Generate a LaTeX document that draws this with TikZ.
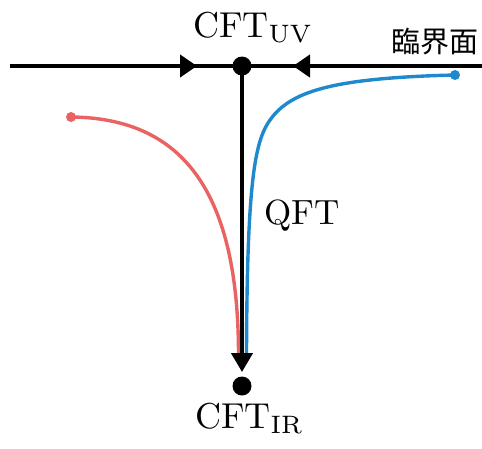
\documentclass[tikz,border=0pt]{standalone}
\usepackage{fontspec}
\newfontfamily\cjk{Noto Sans CJK JP}
\usetikzlibrary{arrows.meta}
\definecolor{redc}{RGB}{234,98,98}
\definecolor{bluec}{RGB}{30,137,204}
\begin{document}
\begin{tikzpicture}[x=1pt,y=-1pt,
  axis/.style={line width=4.2pt,black},
  flow/.style={line width=3.4pt,line cap=round},
  bigdot/.style={circle,fill=black,inner sep=0pt,minimum size=19pt},
  enddot/.style={circle,inner sep=0pt,minimum size=10pt},
  lab/.style={inner sep=0pt},
  tip/.style={-{Triangle[length=17pt,width=22pt]}}]
\useasboundingbox (0,0) rectangle (482,448);
% coordinates
\coordinate (L) at (10,66);
\coordinate (R) at (482,66);
\coordinate (la) at (197,66);
\coordinate (ra) at (293,66);
\coordinate (vtip) at (242,372);
% flows
\node[enddot,fill=redc] (rs) at (71,117) {};
\node[enddot,fill=bluec] (bs) at (455,75) {};
\coordinate (re) at (238.5,355);
\coordinate (be) at (246.5,355);
\coordinate (bm) at (270,120);
\draw[flow,redc] (rs.center) .. controls (185,118) and (238.5,195) .. (re);
\draw[flow,bluec] (bs.center) .. controls (330,78) and (290,92) .. (bm)
   .. controls (255,141) and (247,180) .. (be);
% axes
\draw[axis] (L) -- (R);
\draw[axis,tip] (L) -- (la);
\draw[axis,tip] (R) -- (ra);
\node[bigdot] (uv) at (242,66) {};
\node[bigdot] (ir) at (242,386) {};
\draw[axis,-{Triangle[length=19pt,width=21pt]}] (uv.center) -- (vtip);
% labels
\node[lab,anchor=base west] (tuv) at (193,37) {\scalebox{3.6}{$\mathrm{CFT}_{\mathrm{UV}}$}};
\node[lab,anchor=base west] (tqft) at (264,224) {\scalebox{3.5}{QFT}};
\node[lab,anchor=base west] (tir) at (195,428) {\scalebox{3.6}{$\mathrm{CFT}_{\mathrm{IR}}$}};
\node[inner sep=0pt,anchor=base west,font=\cjk\fontsize{29}{34}\selectfont] (crit) at (391,52) {臨界面};
\end{tikzpicture}
\end{document}
